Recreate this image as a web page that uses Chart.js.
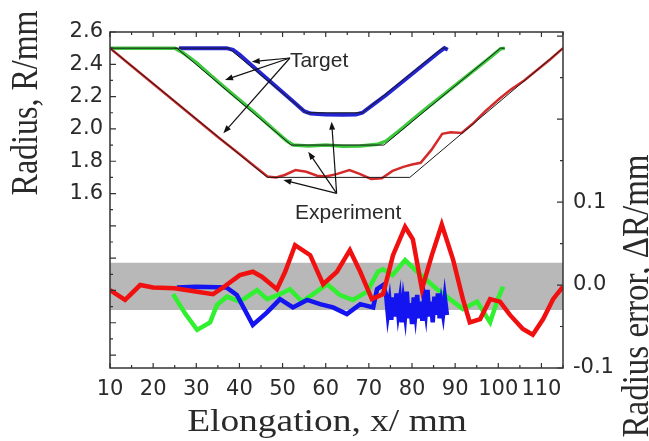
<!DOCTYPE html>
<html>
<head>
<meta charset="utf-8">
<script src="https://cdn.jsdelivr.net/npm/chart.js@4.4.0/dist/chart.umd.min.js"></script>
<style>
  html, body { margin: 0; padding: 0; background: #fff; }
  #wrap { width: 649px; height: 441px; position: relative; }
</style>
</head>
<body>
<div id="wrap"><canvas id="c"></canvas></div>
<script>
// ---- tick values ----
const xTickLabels = [10, 20, 30, 40, 50, 60, 70, 80, 90, 100, 110];
const xMinorTicks = [10, 15, 20, 25, 30, 35, 40, 45, 50, 55, 60, 65, 70, 75, 80, 85, 90, 95, 100, 105, 110, 115];
const rTickLabels = [1.6, 1.8, 2.0, 2.2, 2.4, 2.6];
const rMinorTicks = [0.6, 0.7, 0.8, 0.9, 1.0, 1.1, 1.2, 1.3, 1.4, 1.5, 1.6, 1.7, 1.8, 1.9, 2.0, 2.1, 2.2, 2.3, 2.4, 2.5, 2.6];
const errTickLabels = [-0.1, 0.0, 0.1];
const errMinorTicks = [-0.1, -0.05, 0, 0.05, 0.1, 0.15, 0.2, 0.25, 0.3];

// ---- target profiles (radius, mm) ----
const blueTargetX = [25, 37.5, 55.5, 68.5, 87, 88];
const blueTargetR = [2.5, 2.5, 2.1, 2.1, 2.5, 2.5];
const greenTargetX = [10, 25.5, 52, 73.5, 100.5, 101.5];
const greenTargetR = [2.5, 2.5, 1.9, 1.9, 2.5, 2.5];
const redTargetX = [10, 46.5, 79.5, 115];
const redTargetR = [2.5, 1.7, 1.7, 2.5];

// ---- measured profiles (radius, mm) ----
const blueExpX = [26, 37, 38.5, 40, 43, 46, 49, 52, 55, 56.5, 60, 64, 67, 68.5, 71, 74, 77, 80, 83, 86, 87.5, 88.3];
const blueExpR = [2.5, 2.5, 2.49, 2.46, 2.39, 2.32, 2.25, 2.18, 2.11, 2.095, 2.09, 2.088, 2.09, 2.1, 2.15, 2.21, 2.275, 2.34, 2.405, 2.47, 2.5, 2.49];
const greenExpX = [10, 25, 27, 30, 33, 36, 40, 44, 48, 51, 52.5, 56, 60, 64, 68, 72, 74, 78, 82, 86, 90, 94, 98, 100.5, 101.5];
const greenExpR = [2.5, 2.5, 2.47, 2.41, 2.34, 2.27, 2.18, 2.09, 1.995, 1.925, 1.9, 1.895, 1.9, 1.893, 1.895, 1.905, 1.925, 2.01, 2.1, 2.185, 2.27, 2.355, 2.44, 2.495, 2.5];
const redExpX = [10, 15, 20, 25, 30, 35, 40, 43, 46.5, 48.5, 50.5, 53, 55.5, 58, 60, 62.5, 65.5, 68, 70.5, 73, 75.5, 78, 80, 82, 84.5, 87, 89, 91.5, 94, 97, 100.4, 103, 106, 109, 112, 115];
const redExpR = [2.5, 2.39, 2.28, 2.17, 2.06, 1.95, 1.845, 1.78, 1.705, 1.7, 1.715, 1.745, 1.735, 1.71, 1.705, 1.72, 1.745, 1.72, 1.69, 1.695, 1.74, 1.765, 1.78, 1.79, 1.87, 1.97, 1.98, 1.975, 2.03, 2.11, 2.19, 2.245, 2.3, 2.365, 2.43, 2.5];

// ---- radius error (mm) ----
const blueErrX = [25.5, 30, 37, 39.4, 43.1, 46.4, 49.4, 52.4, 55.7, 58.7, 61.7, 64.9, 68, 71, 71.9, 73.3,
  74.0, 74.4, 74.8, 75.2, 75.6, 76.0, 76.4, 76.8, 77.2, 77.6, 78.0, 78.4, 78.8, 79.2, 79.6, 80.0, 80.4, 80.8,
  81.2, 81.6, 82.0, 82.4, 82.8, 83.2, 83.6, 84.0, 84.4, 84.8, 85.2, 85.6, 86.0, 86.4, 86.8, 87.2, 87.6, 88.1];
const blueErrY = [-0.003, -0.002, -0.003, -0.012, -0.048, -0.033, -0.017, -0.027, -0.018, -0.023, -0.027, -0.035, -0.023, -0.027, -0.005, 0.0,
  -0.012, -0.035, -0.02, -0.042, -0.015, -0.038, -0.01, -0.033, -0.018, -0.045, -0.02, -0.036, -0.008, -0.04, -0.022, -0.047, -0.015, -0.034,
  -0.012, -0.04, -0.02, -0.043, -0.016, -0.032, -0.006, -0.038, -0.02, -0.045, -0.014, -0.036, -0.01, -0.04, -0.022, -0.035, -0.015, -0.036];
const greenErrX = [24.6, 27.5, 30.2, 33.2, 34.8, 37.1, 40.1, 44.1, 46.4, 49.4, 51.7, 54.5, 57.1, 60.3, 63.3, 66.3, 69.6, 72.1, 73.3, 75.5, 78.4, 81.2, 85.8, 88.8, 91.8, 95.1, 98.1, 99.9, 101.1];
const greenErrY = [-0.011, -0.035, -0.054, -0.045, -0.024, -0.014, -0.02, -0.006, -0.017, -0.011, -0.005, -0.02, -0.011, 0.001, -0.012, -0.018, -0.008, 0.016, 0.019, 0.012, 0.03, 0.016, -0.005, -0.017, -0.029, -0.02, -0.045, -0.017, -0.002];
const redErrX = [10, 13.5, 17, 20, 25, 30.2, 33.9, 36.2, 40.1, 43.1, 45.2, 48.7, 50.6, 52.9, 56.4, 59.4, 62.6, 65.6, 68, 70.7, 73.3, 75.6, 78.4, 80.2, 82.3, 84.6, 86.9, 89.5, 91.8, 93.4, 95.8, 98.1, 100.4, 102.7, 105.7, 108, 110.4, 112.7, 115];
const redErrY = [-0.006, -0.018, 0.0, -0.003, -0.004, -0.008, -0.011, -0.003, 0.012, 0.016, 0.01, -0.005, 0.016, 0.048, 0.036, 0.001, 0.016, 0.042, 0.016, -0.017, -0.011, 0.036, 0.07, 0.055, -0.005, 0.036, 0.073, 0.031, -0.017, -0.045, -0.041, -0.017, -0.02, -0.036, -0.053, -0.06, -0.041, -0.017, -0.002];

// tolerance band on the error axis
const bandX = [10, 115];
const bandLow = -0.03;
const bandHigh = 0.027;

// annotation arrows: [fromX, fromR, toX, toR] in data units of the radius axis
const targetArrows = [[51.7, 2.439, 42.85, 2.416], [51.7, 2.439, 36.66, 2.303], [51.7, 2.439, 36.27, 1.973]];
const expArrows = [[62.53, 1.601, 61.37, 2.045], [62.53, 1.601, 55.96, 1.859], [62.53, 1.601, 50.17, 1.684]];

const TICK_FONT = { family: '"DejaVu Sans", sans-serif', size: 21 };
const INK = '#2a2a2a';

const pts = (xs, ys) => xs.map((x, i) => ({ x, y: ys[i] }));
function line(label, xs, ys, color, width, axis) {
  return { label, data: pts(xs, ys), borderColor: color, borderWidth: width,
           pointRadius: 0, fill: false, tension: 0, yAxisID: axis };
}

function arrow(ctx, x0, y0, x1, y1) {
  const a = Math.atan2(y1 - y0, x1 - x0), h = 8, w = 3;
  ctx.beginPath();
  ctx.moveTo(x0, y0);
  ctx.lineTo(x1 - h * 0.7 * Math.cos(a), y1 - h * 0.7 * Math.sin(a));
  ctx.stroke();
  ctx.beginPath();
  ctx.moveTo(x1, y1);
  ctx.lineTo(x1 - h * Math.cos(a) + w * Math.sin(a), y1 - h * Math.sin(a) - w * Math.cos(a));
  ctx.lineTo(x1 - h * Math.cos(a) - w * Math.sin(a), y1 - h * Math.sin(a) + w * Math.cos(a));
  ctx.closePath();
  ctx.fill();
}

function title(ctx, text, px, py, rot, size, sx) {
  ctx.save();
  ctx.translate(px, py);
  ctx.scale(sx, 1);
  ctx.rotate(rot);
  ctx.font = size + 'px "Liberation Serif", "Times New Roman", serif';
  ctx.textAlign = 'center';
  ctx.textBaseline = 'alphabetic';
  ctx.fillStyle = INK;
  ctx.fillText(text, 0, 0);
  ctx.restore();
}

const decor = {
  id: 'decor',
  afterDraw(chart) {
    const { ctx, chartArea: a, scales: { x, y, yR } } = chart;
    ctx.save();
    ctx.strokeStyle = '#333';
    ctx.lineWidth = 1.5;
    ctx.strokeRect(a.left, a.top, a.right - a.left, a.bottom - a.top);

    // inward ticks on all four sides
    ctx.lineWidth = 1.2;
    ctx.beginPath();
    xMinorTicks.forEach(v => {
      const p = x.getPixelForValue(v), len = v % 10 === 0 ? 5 : 3;
      ctx.moveTo(p, a.bottom); ctx.lineTo(p, a.bottom - len);
      ctx.moveTo(p, a.top); ctx.lineTo(p, a.top + len);
    });
    rMinorTicks.forEach(v => {
      const p = y.getPixelForValue(v), len = Math.round(v * 10) % 2 === 0 ? 6 : 3;
      ctx.moveTo(a.left, p); ctx.lineTo(a.left + len, p);
    });
    errMinorTicks.forEach(v => {
      const p = yR.getPixelForValue(v), len = Math.round(v * 100) % 10 === 0 ? 6 : 3;
      ctx.moveTo(a.right, p); ctx.lineTo(a.right - len, p);
    });
    ctx.stroke();

    // annotation arrows and labels
    ctx.strokeStyle = '#111';
    ctx.fillStyle = '#111';
    ctx.lineWidth = 1.2;
    [...targetArrows, ...expArrows].forEach(([x0, r0, x1, r1]) => {
      arrow(ctx, x.getPixelForValue(x0), y.getPixelForValue(r0), x.getPixelForValue(x1), y.getPixelForValue(r1));
    });
    ctx.font = '21px "Liberation Sans", Arial, sans-serif';
    ctx.fillStyle = INK;
    ctx.textAlign = 'left';
    ctx.textBaseline = 'alphabetic';
    ctx.fillText('Target', x.getPixelForValue(51.7), y.getPixelForValue(2.383));
    ctx.fillText('Experiment', x.getPixelForValue(52.9), y.getPixelForValue(1.44));
    ctx.restore();

    // axis titles
    title(ctx, 'Radius, R/mm', 37, 103, -Math.PI / 2, 32, 1.17);
    title(ctx, 'Radius error, \u0394R/mm', 648, 296, -Math.PI / 2, 33, 1.17);
    title(ctx, 'Elongation, x/ mm', 327, 431, 0, 32, 1.17);
  }
};

new Chart(document.getElementById('c'), {
  type: 'line',
  data: {
    datasets: [
      line('Target (blue)', blueTargetX, blueTargetR, '#1a1a1a', 1, 'y'),
      line('Target (green)', greenTargetX, greenTargetR, '#1a1a1a', 1, 'y'),
      line('Target (red)', redTargetX, redTargetR, '#1a1a1a', 1, 'y'),
      line('Experiment (red)', redExpX, redExpR, '#d42a2a', 2.5, 'y'),
      line('Experiment (green)', greenExpX, greenExpR, '#3cc83c', 3.5, 'y'),
      line('Experiment (blue)', blueExpX, blueExpR, '#2424d0', 4, 'y'),
      line('Error (red)', redErrX, redErrY, '#f01010', 4.5, 'yR'),
      line('Error (blue)', blueErrX, blueErrY, '#1414f0', 4.5, 'yR'),
      line('Error (green)', greenErrX, greenErrY, '#30f030', 4.5, 'yR'),
      { label: 'band+', data: pts(bandX, bandX.map(() => bandHigh)), yAxisID: 'yR',
        borderWidth: 0, pointRadius: 0, fill: false },
      { label: 'band-', data: pts(bandX, bandX.map(() => bandLow)), yAxisID: 'yR',
        borderWidth: 0, pointRadius: 0, fill: '-1', backgroundColor: '#b8b8b8' }
    ]
  },
  options: {
    responsive: true,
    maintainAspectRatio: false,
    animation: false,
    layout: { padding: { top: 32, left: 0, right: 0, bottom: 0 } },
    plugins: { legend: { display: false }, tooltip: { enabled: false } },
    scales: {
      x: {
        type: 'linear', min: 10, max: 115,
        afterBuildTicks: s => { s.ticks = xTickLabels.map(v => ({ value: v })); },
        afterFit: s => { s.height = 73; },
        ticks: { font: TICK_FONT, color: INK, padding: 9, autoSkip: false, maxRotation: 0 },
        grid: { display: false, drawTicks: false },
        border: { display: false }
      },
      y: {
        type: 'linear', position: 'left', min: 0.52, max: 2.6,
        afterBuildTicks: s => { s.ticks = rTickLabels.map(v => ({ value: v })); },
        afterFit: s => { s.width = 110; },
        ticks: { font: TICK_FONT, color: INK, padding: 7, autoSkip: false, callback: v => v.toFixed(1) },
        grid: { display: false, drawTicks: false },
        border: { display: false }
      },
      yR: {
        type: 'linear', position: 'right', min: -0.1, max: 0.305,
        afterBuildTicks: s => { s.ticks = errTickLabels.map(v => ({ value: v })); },
        afterFit: s => { s.width = 86; },
        ticks: { font: TICK_FONT, color: INK, padding: 10, autoSkip: false, callback: v => v.toFixed(1) },
        grid: { display: false, drawTicks: false },
        border: { display: false }
      }
    }
  },
  plugins: [decor]
});
</script>
</body>
</html>
